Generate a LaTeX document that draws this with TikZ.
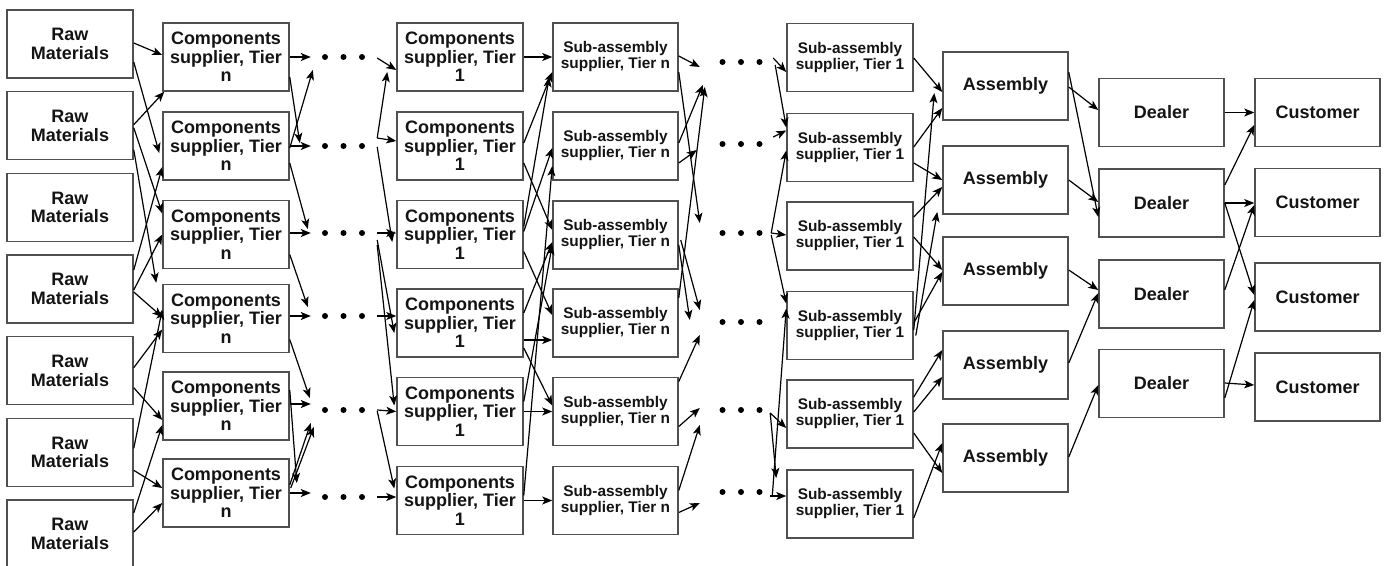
\documentclass[tikz,border=0pt]{standalone}
\usepackage{fontspec}
\setmainfont{Liberation Sans}
\usetikzlibrary{arrows.meta,calc}
\definecolor{boxgray}{HTML}{505050}
\definecolor{txt}{HTML}{141414}
\begin{document}
\begin{tikzpicture}[x=1pt,y=-1pt,
  box/.style={draw=boxgray, line width=1.5pt, fill=white, minimum width=126pt,
    minimum height=68pt, inner sep=1pt, align=center, text=txt,
    font=\fontsize{18}{18.5}\selectfont\bfseries},
  subbox/.style={box, font=\fontsize{15.4}{16}\selectfont\bfseries},
  arr/.style={-{Stealth[length=10pt,width=8pt,inset=2.5pt]}, line width=1.2pt, draw=black},
  dotrow/.style={minimum width=#1, minimum height=8pt, inner sep=0pt,
    path picture={\foreach \dx in {-18.5,0,18.5}
      \fill[black] ($(path picture bounding box.center)+(\dx,0)$) circle (3pt);}}
]
\clip (0,0) rectangle (1384,565);

% raw materials
\foreach \i/\y in {1/44,2/125.7,3/207.3,4/289,5/370.7,6/452.3,7/534}
  \node[box] (r\i) at (70,\y) {Raw\\Materials};
% components suppliers, tier n
\foreach \i/\y in {1/57,2/146,3/234.5,4/318.5,5/406,6/493}
  \node[box] (c\i) at (226,\y) {Components\\supplier, Tier\\n};
% intermediate tiers (dots)
\foreach \i/\y in {1/57,2/146,3/233,4/316,5/410,6/497}
  \node[dotrow=65pt] (p\i) at (343.5,\y) {};
% components suppliers, tier 1
\foreach \i/\y in {1/57,2/146,3/234.5,4/323,5/411.5,6/500.5}
  \node[box] (t\i) at (460,\y) {Components\\supplier, Tier\\1};
% sub-assembly suppliers, tier n
\foreach \i/\y in {1/57,2/146,3/235,4/323,5/411.5,6/500.5}
  \node[subbox, minimum width=125pt] (s\i) at (615.5,\y) {Sub-assembly\\supplier, Tier n};
\foreach \i/\y in {1/62,2/144,3/233,4/322,5/410,6/492}
  \node[dotrow=72pt] (q\i) at (741,\y) {};
% sub-assembly suppliers, tier 1
\foreach \i/\y in {1/57.5,2/147.5,3/236,4/325.5,5/414,6/504}
  \node[subbox] (u\i) at (850,\y) {Sub-assembly\\supplier, Tier 1};
% assembly, dealers, customers
\foreach \i/\y in {1/86,2/180,3/271,4/365,5/458}
  \node[box, minimum width=125pt] (m\i) at (1005.5,\y) {Assembly};
\foreach \i/\y in {1/112.5,2/203,3/294,4/383.5}
  \node[box, minimum width=125pt] (d\i) at (1161.5,\y) {Dealer};
\foreach \i/\y in {1/112.5,2/202.5,3/297,4/387}
  \node[box, minimum width=125pt] (k\i) at (1317.5,\y) {Customer};

% raw materials -> components tier n
\draw[arr] ($(r1.east)+(0,-1)$) -- ($(c1.west)+(0,-2)$);
\draw[arr] ($(r1.east)+(0,18)$) -- ($(c2.west)+(-3,7)$);
\draw[arr] ($(r2.east)+(0,-1)$) -- ($(c1.south west)+(2,0)$);
\draw[arr] ($(r2.east)+(0,2)$) -- ($(c3.west)+(0,-21)$);
\draw[arr] ($(r2.east)+(0,24)$) -- ($(c4.north west)+(-6,-1)$);
\draw[arr] ($(r4.east)+(0,-19)$) -- ($(c2.west)+(0,21)$);
\draw[arr] ($(r4.east)+(0,1)$) -- ($(c3.west)+(0,0)$);
\draw[arr] ($(r4.east)+(0,3)$) -- ($(c4.west)+(0,-1.5)$);
\draw[arr] ($(r5.east)+(0,-3)$) -- ($(c4.west)+(0,11)$);
\draw[arr] ($(r5.east)+(0,17)$) -- ($(c5.west)+(0,14)$);
\draw[arr] ($(r6.east)+(0,-4)$) -- ($(c4.west)+(0,-9)$);
\draw[arr] ($(r6.east)+(0,18)$) -- ($(c6.west)+(0,-5)$);
\draw[arr] ($(r7.east)+(0,-21)$) -- ($(c5.west)+(0,19)$);
\draw[arr] ($(r7.east)+(0,-2)$) -- ($(c6.west)+(0,10)$);

% components tier n -> intermediate tiers
\draw[arr] (c1.east) -- (p1.west);
\draw[arr] ($(c1.east)+(0,20)$) -- ($(p2.west)+(-11,-3)$);
\draw[arr] (c2.east) -- (p2.west);
\draw[arr] ($(c2.east)+(0,2)$) -- ($(p1.west)+(2,13)$);
\draw[arr] ($(c2.east)+(0,17)$) -- ($(p3.west)+(-3,-4)$);
\draw[arr] ($(c3.east)+(0,-1.5)$) -- (p3.west);
\draw[arr] ($(c3.east)+(0,20)$) -- ($(p4.west)+(-3,-9)$);
\draw[arr] ($(c4.east)+(0,-2.5)$) -- (p4.west);
\draw[arr] ($(c4.east)+(0,21)$) -- ($(p5.west)+(-1,-12)$);
\draw[arr] ($(c5.east)+(0,-2)$) -- ($(p5.west)+(0,-6)$);
\draw[arr] ($(c5.east)+(0,-16)$) -- ($(p6.west)+(-14,-14)$);
\draw[arr] (c6.east) -- ($(p6.west)+(0,-4)$);
\draw[arr] ($(c6.east)+(0,-8)$) -- ($(p5.west)+(0,13)$);
\draw[arr] ($(c6.east)+(1,-5)$) -- ($(p5.west)+(3,17)$);

% intermediate tiers -> components tier 1
\draw[arr] ($(p1.east)+(1,1)$) -- ($(t1.west)+(0,13)$);
\draw[arr] ($(p2.east)+(1,-8)$) -- ($(t1.west)+(-9,15)$);
\draw[arr] ($(p2.east)+(1,-8)$) -- ($(t2.west)+(0,-5)$);
\draw[arr] ($(p2.east)+(1,1)$) -- ($(t3.west)+(-4,7.5)$);
\draw[arr] ($(p3.east)+(1,0)$) -- ($(t3.west)+(0,-1.5)$);
\draw[arr] ($(p3.east)+(1,7)$) -- ($(t4.west)+(-2,10)$);
\draw[arr] ($(p3.east)+(1,12)$) -- ($(t5.west)+(-2,-6)$);
\draw[arr] ($(p4.east)+(1,0)$) -- ($(t4.west)+(0,-7)$);
\draw[arr] ($(p5.east)+(1,0)$) -- (t5.west);
\draw[arr] ($(p5.east)+(1,1)$) -- ($(t6.west)+(-2,-12)$);
\draw[arr] ($(p6.east)+(1,0)$) -- ($(t6.west)+(0,-3.5)$);

% components tier 1 -> sub-assembly tier n
\draw[arr] (t1.east) -- (s1.west);
\draw[arr] ($(t2.east)+(0,-3)$) -- ($(s1.west)+(0,15)$);
\draw[arr] ($(t2.east)+(0,17)$) -- ($(s3.west)+(0,-5)$);
\draw[arr] ($(t3.east)+(0,-8)$) -- ($(s1.west)+(-3,20)$);
\draw[arr] ($(t3.east)+(0,-3)$) -- ($(s2.west)+(0,2)$);
\draw[arr] ($(t3.east)+(0,17)$) -- ($(s4.west)+(0,-8)$);
\draw[arr] ($(t4.east)+(0,-10)$) -- ($(s3.west)+(0,7)$);
\draw[arr] ($(t4.east)+(0,17)$) -- ($(s4.west)+(0,17)$);
\draw[arr] ($(t4.east)+(0,25)$) -- ($(s5.west)+(0,-6)$);
\draw[arr] ($(t5.east)+(0,-10)$) -- ($(s3.west)+(0,10)$);
\draw[arr] (t5.east) -- (s5.west);
\draw[arr] (t6.east) -- (s6.west);
\draw[arr] ($(t6.east)+(0,-5)$) -- ($(s2.west)+(0,20)$);

% sub-assembly tier n -> intermediate tiers
\draw[arr] ($(s1.east)+(0,-1)$) -- ($(q1.west)+(-5,5)$);
\draw[arr] ($(s1.east)+(0,15)$) -- ($(q3.west)+(-5,-10)$);
\draw[arr] ($(s2.east)+(0,-3)$) -- ($(q1.west)+(-2,23)$);
\draw[arr] ($(s2.east)+(0,17)$) -- ($(q2.west)+(-8,6)$);
\draw[arr] ($(s3.east)+(0,10)$) -- ($(q4.west)+(-15,-2)$);
\draw[arr] ($(s3.east)+(2,5)$) -- ($(q4.west)+(-5,-12)$);
\draw[arr] ($(s4.east)+(0,-25)$) -- ($(q1.west)+(0,25)$);
\draw[arr] ($(s5.east)+(0,-30)$) -- ($(q4.west)+(-5,13)$);
\draw[arr] ($(s5.east)+(0,15)$) -- ($(q5.west)+(-5,-2)$);
\draw[arr] ($(s6.east)+(0,-10)$) -- ($(q5.west)+(-5,15)$);
\draw[arr] ($(s6.east)+(0,12)$) -- ($(q6.west)+(-5,11)$);

% intermediate tiers -> sub-assembly tier 1
\draw[arr] ($(q1.east)+(-4,-4)$) -- ($(u1.west)+(0,14.5)$);
\draw[arr] ($(q1.east)+(-2,3)$) -- ($(u2.west)+(0,-20)$);
\draw[arr] ($(q2.east)+(-4,-7)$) -- ($(u2.west)+(0,-17)$);
\draw[arr] ($(q3.east)+(-6,0)$) -- ($(u2.west)+(0,3)$);
\draw[arr] ($(q3.east)+(-6,0)$) -- ($(u3.west)+(0,-1)$);
\draw[arr] ($(q3.east)+(-6,2)$) -- ($(u4.west)+(0,-22)$);
\draw[arr] ($(q5.east)+(-7,3)$) -- ($(u5.west)+(0,14)$);
\draw[arr] ($(q5.east)+(-7,3)$) -- ($(u6.west)+(-10,-26)$);
\draw[arr] ($(q6.east)+(-5,5)$) -- ($(u4.west)+(0,-17)$);
\draw[arr] ($(q6.east)+(-7,4)$) -- ($(u6.west)+(0,-8)$);

% sub-assembly tier 1 -> assembly
\draw[arr] ($(u1.east)+(0,0.5)$) -- ($(m1.west)+(0,6)$);
\draw[arr] ($(u2.east)+(0,-0.5)$) -- ($(m1.west)+(0,22)$);
\draw[arr] ($(u2.east)+(0,15.5)$) -- (m2.west);
\draw[arr] ($(u3.east)+(0,-19)$) -- ($(m2.west)+(0,7)$);
\draw[arr] ($(u3.east)+(0,1)$) -- ($(m3.west)+(0,-1)$);
\draw[arr] ($(u4.east)+(0,4.5)$) -- ($(m1.west)+(-8,7)$);
\draw[arr] ($(u4.east)+(2,10)$) -- ($(m2.west)+(-5,32)$);
\draw[arr] ($(u4.east)+(0,-2.5)$) -- ($(m3.west)+(0,1)$);
\draw[arr] ($(u5.east)+(0,-17)$) -- ($(m4.west)+(0,-15)$);
\draw[arr] ($(u5.east)+(0,-2)$) -- ($(m4.west)+(0,12)$);
\draw[arr] ($(u5.east)+(0,19)$) -- ($(m5.west)+(0,15)$);
\draw[arr] ($(u6.east)+(0,14)$) -- ($(m5.west)+(0,-15)$);

% assembly -> dealers
\draw[arr] ($(m1.east)+(0,1)$) -- ($(d1.west)+(0,-2.5)$);
\draw[arr] ($(m1.east)+(0,-14)$) -- ($(d2.west)+(0,14)$);
\draw[arr] (m2.east) -- ($(d2.west)+(0,-1)$);
\draw[arr] ($(m3.east)+(0,-1)$) -- ($(d3.west)+(0,-4)$);
\draw[arr] ($(m4.east)+(0,-2)$) -- ($(d3.west)+(0,-1)$);
\draw[arr] ($(m5.east)+(0,-1)$) -- ($(d4.west)+(0,1.5)$);

% dealers -> customers
\draw[arr] (d1.east) -- (k1.west);
\draw[arr] ($(d2.east)+(0,-18)$) -- ($(k1.west)+(0,12.5)$);
\draw[arr] (d2.east) -- ($(k2.west)+(0,0.5)$);
\draw[arr] (d2.east) -- ($(k3.west)+(0,-2)$);
\draw[arr] ($(d3.east)+(0,-4)$) -- ($(k2.west)+(0,2.5)$);
\draw[arr] ($(d4.east)+(0,14.5)$) -- ($(k3.west)+(0,3)$);
\draw[arr] ($(d4.east)+(0,-0.5)$) -- ($(k4.west)+(0,-2)$);
\end{tikzpicture}
\end{document}
